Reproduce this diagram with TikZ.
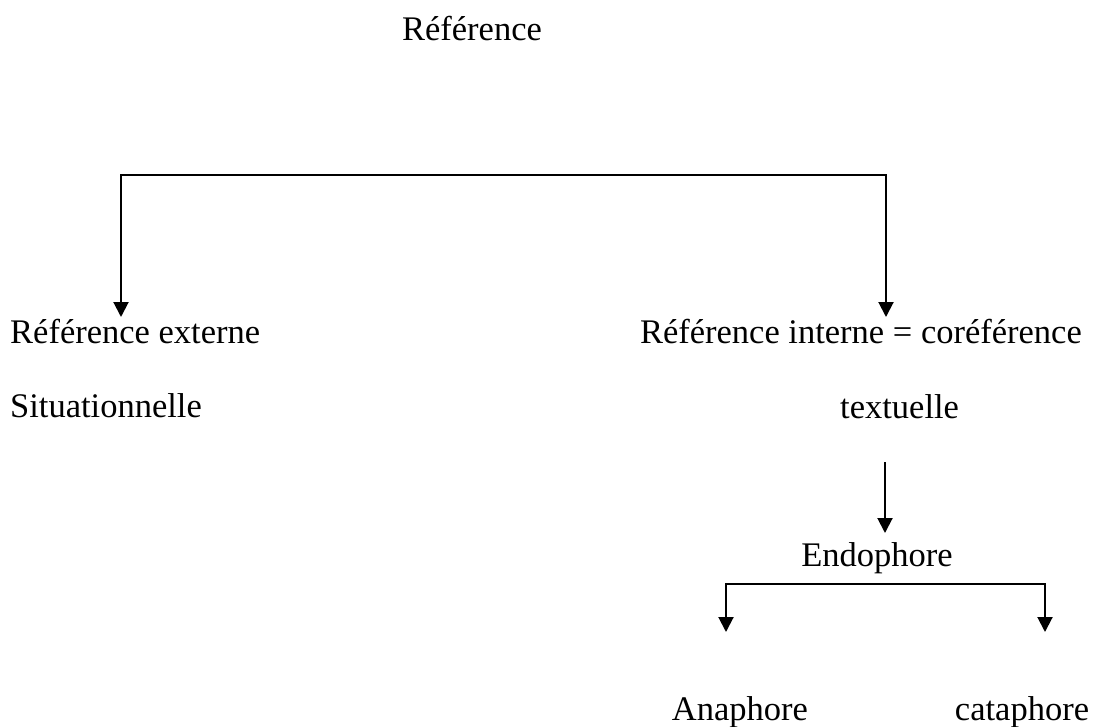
\documentclass[tikz,border=0pt]{standalone}
\usepackage{fontspec}
\setmainfont{Liberation Serif}
\usetikzlibrary{arrows.meta}
\begin{document}
\begin{tikzpicture}[x=1pt,y=-1pt,
  lbl/.style={inner sep=0pt, font=\fontsize{34.5}{40}\selectfont},
  conn/.style={line width=2pt, line cap=rect},
  arr/.style={line width=2pt, -{Triangle[width=15pt,length=15pt]}}]
\useasboundingbox (0,0) rectangle (1093,726);
\node[lbl,anchor=base] (ref) at (472,40) {Référence};
\node[lbl,anchor=base west] (ext) at (10,343) {Référence externe};
\node[lbl,anchor=base east] (int) at (1082,343) {Référence interne = coréférence};
\node[lbl,anchor=base west] (sit) at (10,417) {Situationnelle};
\node[lbl,anchor=base west] (tex) at (840,418) {textuelle};
\node[lbl,anchor=base] (endo) at (877,566) {Endophore};
\node[lbl,anchor=base] (ana) at (740,720) {Anaphore};
\node[lbl,anchor=base] (cata) at (1022,720) {cataphore};
% top bracket
\coordinate (tl) at (121,175);
\coordinate (tr) at (886,175);
\coordinate (tlend) at (121,317);
\coordinate (trend) at (886,317);
\draw[conn] (tlend |- tl) -- (tr);
\draw[arr] (tl) -- (tlend);
\draw[arr] (tr) -- (trend);
% textuelle to Endophore
\coordinate (m1) at (885,462);
\coordinate (m2) at (885,533);
\draw[arr] (m1) -- (m2);
% endophore bracket
\coordinate (bl) at (726,584);
\coordinate (br) at (1045,584);
\coordinate (blend) at (726,632);
\coordinate (brend) at (1045,632);
\draw[conn] (bl) -- (br);
\draw[arr] (bl) -- (blend);
\draw[arr] (br) -- (brend);
\end{tikzpicture}
\end{document}
